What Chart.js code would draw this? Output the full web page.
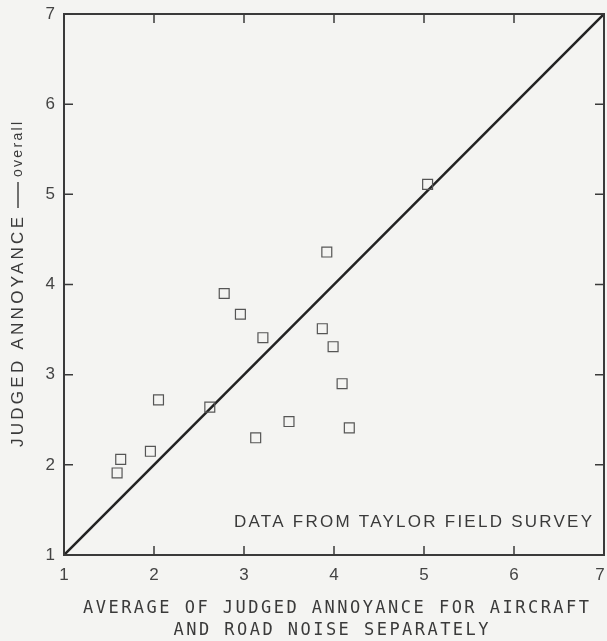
<!DOCTYPE html>
<html>
<head>
<meta charset="utf-8">
<script src="https://cdn.jsdelivr.net/npm/chart.js@4"></script>
<style>
  html, body { margin: 0; padding: 0; background: #f4f4f2; }
  #wrap { width: 607px; height: 641px; }
</style>
</head>
<body>
<div id="wrap"><canvas id="grafico"></canvas></div>
<script>
// survey points: average of separate judgements (x) vs overall judgement (y)
const separateAvg = [1.59, 1.63, 1.96, 2.05, 2.62, 2.78, 2.96, 3.13, 3.21, 3.50, 3.87, 3.92, 3.99, 4.09, 4.17, 5.04];
const overallJudged = [1.91, 2.06, 2.15, 2.72, 2.64, 3.90, 3.67, 2.30, 3.41, 2.48, 3.51, 4.36, 3.31, 2.90, 2.41, 5.11];
// line of equality
const equalX = [1, 7];
const equalY = [1, 7];
const tickValues = [1, 2, 3, 4, 5, 6, 7];

const ink = '#3a3a3a';
const sans = '"Liberation Sans", Arial, sans-serif';

const framePlugin = {
  id: 'frame',
  afterDraw(chart) {
    const ctx = chart.ctx, a = chart.chartArea;
    const xs = chart.scales.x, ys = chart.scales.y;
    ctx.save();
    ctx.strokeStyle = ink;
    ctx.lineWidth = 2;
    ctx.strokeRect(a.left, a.top, a.right - a.left, a.bottom - a.top);
    ctx.lineWidth = 1.5;
    ctx.beginPath();
    tickValues.forEach(v => {
      const px = xs.getPixelForValue(v), py = ys.getPixelForValue(v);
      ctx.moveTo(px, a.bottom); ctx.lineTo(px, a.bottom - 9);
      ctx.moveTo(px, a.top); ctx.lineTo(px, a.top + 9);
      ctx.moveTo(a.left, py); ctx.lineTo(a.left + 9, py);
      ctx.moveTo(a.right, py); ctx.lineTo(a.right - 9, py);
    });
    ctx.stroke();

    // x tick labels (drawn here so chart.js doesn't pad for the last one)
    ctx.fillStyle = '#444';
    ctx.font = '17px ' + sans;
    ctx.textAlign = 'center';
    ctx.textBaseline = 'middle';
    tickValues.forEach(v => {
      const px = Math.min(xs.getPixelForValue(v), 600);
      ctx.fillText(String(v), px, a.bottom + 20);
    });

    // spaced text helper: stretch text over a given width
    function spaced(text, x, y, width, font, align) {
      ctx.font = font;
      ctx.letterSpacing = '0px';
      const w = ctx.measureText(text).width;
      const sp = (width - w) / (text.length - 1);
      ctx.letterSpacing = sp + 'px';
      ctx.textAlign = 'left';
      let start = x;
      if (align === 'center') start = x - width / 2;
      if (align === 'right') start = x - width;
      ctx.fillText(text, start, y);
      ctx.letterSpacing = '0px';
    }

    ctx.fillStyle = ink;
    spaced('DATA FROM TAYLOR FIELD SURVEY', 592, a.bottom - 33, 358, '17px ' + sans, 'right');

    spaced('AVERAGE OF JUDGED ANNOYANCE FOR AIRCRAFT', 336, 609, 506, '17px "DejaVu Sans Mono", monospace', 'center');
    spaced('AND ROAD NOISE SEPARATELY', 331, 631, 315, '17px "DejaVu Sans Mono", monospace', 'center');

    // rotated y title
    ctx.translate(18, 447);
    ctx.rotate(-Math.PI / 2);
    spaced('JUDGED ANNOYANCE', 0, 0, 230, '17px ' + sans, 'left');
    ctx.fillRect(239, -0.7, 26, 1.4);
    spaced('overall', 270, 0, 55, '14px ' + sans, 'left');
    ctx.restore();
  }
};

const ctx = document.getElementById('grafico').getContext('2d');

new Chart(ctx, {
  type: 'scatter',
  data: {
    datasets: [
      {
        label: 'Survey',
        data: separateAvg.map((x, i) => ({ x: x, y: overallJudged[i] })),
        pointStyle: 'rect',
        pointRadius: 7,
        backgroundColor: 'rgba(0,0,0,0)',
        borderColor: '#555',
        borderWidth: 1.2
      },
      {
        label: 'Equality',
        type: 'line',
        data: equalX.map((x, i) => ({ x: x, y: equalY[i] })),
        borderColor: '#222',
        borderWidth: 2.5,
        pointRadius: 0,
        fill: false
      }
    ]
  },
  options: {
    responsive: true,
    maintainAspectRatio: false,
    animation: false,
    layout: { autoPadding: false, padding: { top: 14, right: 3, left: 0, bottom: 0 } },
    plugins: {
      legend: { display: false },
      tooltip: { enabled: false }
    },
    scales: {
      x: {
        type: 'linear',
        min: 1,
        max: 7,
        afterFit: s => { s.height = 86; },
        afterBuildTicks: s => { s.ticks = tickValues.map(v => ({ value: v })); },
        grid: { display: false, drawTicks: false },
        border: { display: false },
        ticks: { display: false }
      },
      y: {
        type: 'linear',
        min: 1,
        max: 7,
        afterFit: s => { s.width = 64; s.paddingTop = 0; s.paddingBottom = 0; },
        afterBuildTicks: s => { s.ticks = tickValues.map(v => ({ value: v })); },
        grid: { display: false, drawTicks: false },
        border: { display: false },
        ticks: { padding: 9, color: '#444', font: { family: sans, size: 17 } }
      }
    }
  },
  plugins: [framePlugin]
});
</script>
</body>
</html>
